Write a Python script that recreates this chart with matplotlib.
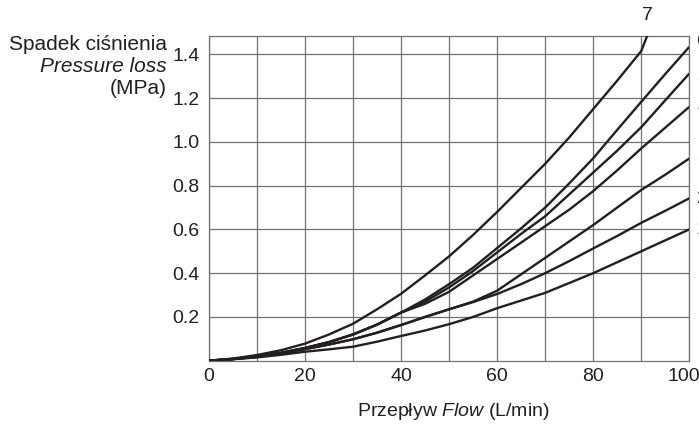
import matplotlib
matplotlib.use("Agg")
import matplotlib.pyplot as plt
import matplotlib.transforms as mtransforms
from matplotlib.ticker import MultipleLocator

plt.rcParams['font.family'] = ['Liberation Sans', 'DejaVu Sans']
plt.rcParams['mathtext.fontset'] = 'custom'
plt.rcParams['mathtext.rm'] = 'Liberation Sans'
plt.rcParams['mathtext.it'] = 'Liberation Sans:italic'

# Flow (L/min)
flow = [0, 5, 10, 15, 20, 25, 30, 35, 40, 45, 50, 55, 60, 65, 70, 75, 80, 85, 90, 95, 100]
flow7 = [0, 5, 10, 15, 20, 25, 30, 35, 40, 45, 50, 55, 60, 65, 70, 75, 80, 85, 90, 91.5]

# Pressure loss (MPa) per curve
curve1 = [0, 0.007, 0.015, 0.027, 0.041, 0.052, 0.064, 0.087, 0.113, 0.138, 0.167, 0.20, 0.24, 0.275, 0.31, 0.355, 0.40, 0.45, 0.50, 0.55, 0.60]
curve2 = [0, 0.007, 0.018, 0.033, 0.053, 0.074, 0.098, 0.128, 0.163, 0.20, 0.235, 0.268, 0.305, 0.35, 0.40, 0.455, 0.513, 0.57, 0.63, 0.685, 0.742]
curve3 = [0, 0.007, 0.018, 0.033, 0.053, 0.074, 0.098, 0.128, 0.163, 0.20, 0.235, 0.27, 0.32, 0.395, 0.47, 0.545, 0.62, 0.70, 0.78, 0.85, 0.924]
curve4 = [0, 0.008, 0.02, 0.036, 0.058, 0.085, 0.12, 0.165, 0.22, 0.26, 0.315, 0.39, 0.465, 0.54, 0.615, 0.69, 0.775, 0.87, 0.97, 1.065, 1.16]
curve5 = [0, 0.008, 0.02, 0.036, 0.058, 0.085, 0.12, 0.165, 0.22, 0.27, 0.335, 0.41, 0.495, 0.58, 0.66, 0.76, 0.86, 0.96, 1.067, 1.19, 1.312]
curve6 = [0, 0.008, 0.02, 0.036, 0.058, 0.085, 0.12, 0.165, 0.22, 0.28, 0.35, 0.425, 0.515, 0.605, 0.70, 0.81, 0.925, 1.055, 1.183, 1.31, 1.434]
curve7 = [0, 0.01, 0.026, 0.048, 0.078, 0.12, 0.169, 0.235, 0.306, 0.39, 0.477, 0.575, 0.68, 0.79, 0.90, 1.02, 1.15, 1.28, 1.415, 1.50]

curve_labels = ["1", "2", "3", "4", "5", "6", "7"]
x_ticks = [0, 20, 40, 60, 80, 100]
y_ticks = [0.2, 0.4, 0.6, 0.8, 1.0, 1.2, 1.4]

W, H = 699, 424
fig = plt.figure(figsize=(W / 100, H / 100), dpi=100)
ax = fig.add_axes([209 / W, 1 - 360.7 / H, (689.3 - 209) / W, (360.7 - 35.7) / H])

ink = '#231f20'
grid = '#707070'
lw = 1.7

for ys in [curve1, curve2, curve3, curve4, curve5, curve6]:
    ax.plot(flow, ys, color=ink, lw=lw, solid_capstyle='butt', zorder=3)
ax.plot(flow7, curve7, color=ink, lw=lw, solid_capstyle='butt', zorder=3)

ax.set_xlim(0, 100)
ax.set_ylim(0, 1.485)
ax.xaxis.set_minor_locator(MultipleLocator(10))
ax.set_xticks(x_ticks)
ax.set_yticks(y_ticks)
ax.set_yticklabels([f"{v:.1f}" for v in y_ticks])
ax.grid(True, which='both', color=grid, lw=0.9, zorder=1)
ax.tick_params(which='both', length=0, labelsize=14, colors=ink)
ax.tick_params(axis='x', pad=5)
ax.tick_params(axis='y', pad=7)
for sp in ax.spines.values():
    sp.set_color(grid)
    sp.set_linewidth(0.9)

# nudge the last x tick label so it stays inside the figure
last = ax.get_xticklabels()[-1]
last.set_transform(last.get_transform() + mtransforms.ScaledTranslation(-5 / 100, 0, fig.dpi_scale_trans))

fs = 15
fig.text(167 / W, 1 - 45 / H, "Spadek ciśnienia", ha='right', va='center', fontsize=fs, color=ink)
fig.text(167 / W, 1 - 66.7 / H, "Pressure loss", ha='right', va='center', fontsize=fs, color=ink, style='italic')
fig.text(167 / W, 1 - 88 / H, "(MPa)", ha='right', va='center', fontsize=fs, color=ink)

fig.text(453 / W, 1 - 411 / H, r"Przepływ $\mathit{Flow}$ (L/min)", ha='center', va='center', fontsize=14, color=ink)

fig.text(647 / W, 1 - 15 / H, curve_labels[6], ha='center', va='center', fontsize=14, color=ink)
label_y = [229, 198, 158, 107, 77, 42]
for lab, yy in zip(curve_labels[:6], label_y):
    fig.text(697 / W, 1 - yy / H, lab, ha='left', va='center', fontsize=14, color=ink)

fig.savefig("out.png", dpi=100)
